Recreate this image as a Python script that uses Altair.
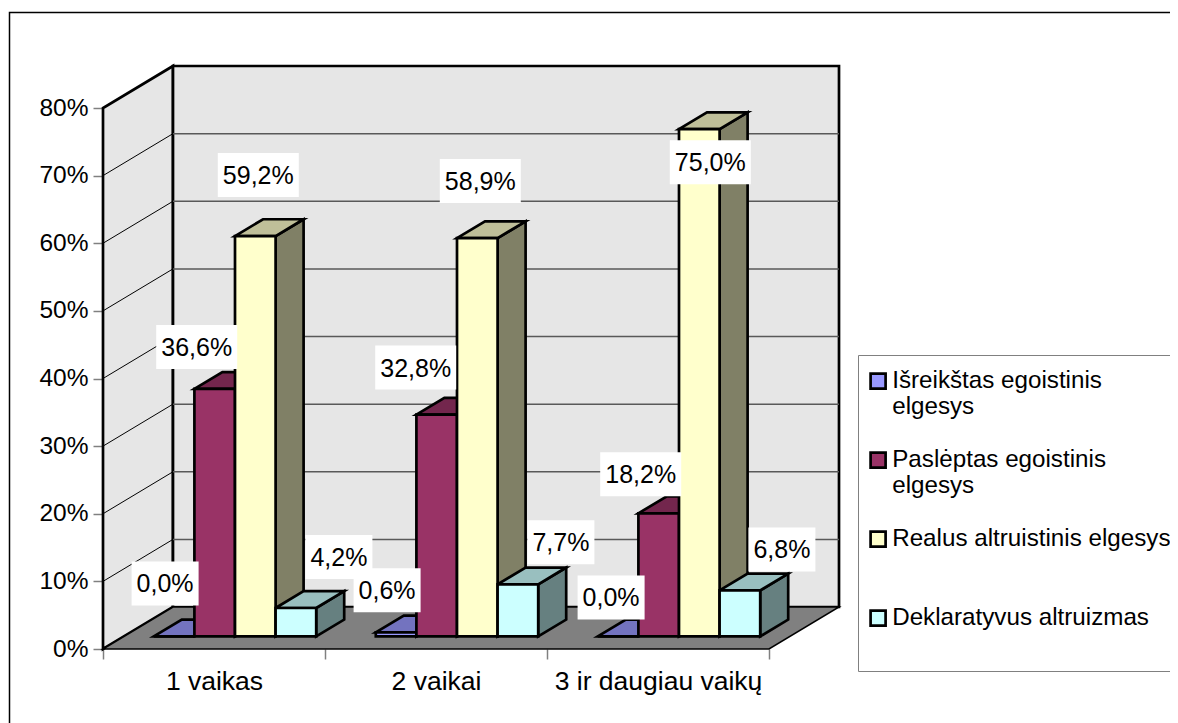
import altair as alt
import pandas as pd

categories = ["1 vaikas", "2 vaikai", "3 ir daugiau vaikų"]
series = ["Išreikštas egoistinis elgesys", "Paslėptas egoistinis elgesys",
          "Realus altruistinis elgesys", "Deklaratyvus altruizmas"]
values = [
    [0.0, 0.6, 0.0],
    [36.6, 32.8, 18.2],
    [59.2, 58.9, 75.0],
    [4.2, 7.7, 6.8],
]
front_colors = ["#9999FF", "#993366", "#FFFFCC", "#CCFFFF"]
top_colors = ["#7373BF", "#73264D", "#BFBF99", "#99BFBF"]
side_colors = ["#4D4D80", "#4D1A33", "#808066", "#668080"]

# Manual placement of the value labels, in pixels from each bar's top-front centre
label_dx = [[-9, -9, -7], [-18, -21, -18], [3, 3, 11], [43, 43, 42]]
label_dy = [[-53, -42, -39], [-42, -47, -39], [-61, -57, 33], [-51, -42, -41]]

PX_X = 222.0    # pixels per category
PX_Y = 6.7625   # pixels per percentage point
WALL_X = 70 / PX_X
WALL_Y = 42 / PX_Y
BAR_W = 40.6 / PX_X
GAP = (1 - 4 * BAR_W) / 2
D0, D1 = 0.3, 0.7
YMAX = 80


def fmt(v):
    return f"{v:.1f}".replace(".", ",") + "%"


faces = []
def face(name, fill, pts):
    for x, y, y2 in pts:
        faces.append(dict(face=name, fill=fill, x=x, y=y, y2=y2))


fronts, labels = [], []
face("leftwall", "#E6E6E6", [(0, 0, YMAX), (WALL_X, WALL_Y, YMAX + WALL_Y)])
face("backwall", "#E6E6E6", [(WALL_X, WALL_Y, YMAX + WALL_Y), (3 + WALL_X, WALL_Y, YMAX + WALL_Y)])
wall_df = pd.DataFrame(faces)
faces = []
face("floor", "#808080", [(0, 0, 0), (WALL_X, 0, WALL_Y), (3, 0, WALL_Y), (3 + WALL_X, WALL_Y, WALL_Y)])
floor_df = pd.DataFrame(faces)
faces = []

ddx = (D1 - D0) * WALL_X
ddy = (D1 - D0) * WALL_Y
base = D0 * WALL_Y
for c, cat in enumerate(categories):
    for s, name in enumerate(series):
        v = values[s][c]
        x0 = c + GAP + s * BAR_W + D0 * WALL_X
        x1 = x0 + BAR_W
        top = base + v
        face(f"side{c}{s}", side_colors[s], [(x1, base, top), (x1 + ddx, base + ddy, top + ddy)])
        face(f"top{c}{s}", top_colors[s], [(x0, top, top), (x0 + ddx, top, top + ddy),
                                           (x1, top, top + ddy), (x1 + ddx, top + ddy, top + ddy)])
        fronts.append(dict(series=name, x=x0, x2=x1, y=base, y2=top))
        lx = (x0 + x1) / 2 + label_dx[s][c] / PX_X
        ly = top - label_dy[s][c] / PX_Y
        t = fmt(v)
        hw = (40.5 if len(t) > 4 else 33.5) / PX_X
        hh = 22 / PX_Y
        labels.append(dict(x=lx, y=ly, x1=lx - hw, x2=lx + hw, y1=ly - hh, y2=ly + hh, text=t))
faces_df = pd.DataFrame(faces)
front_df = pd.DataFrame(fronts)
label_df = pd.DataFrame(labels)

ticks = [10, 20, 30, 40, 50, 60, 70]
grid_back = pd.DataFrame([dict(y=v + WALL_Y, x=WALL_X, x2=3 + WALL_X) for v in ticks])
grid_side = pd.DataFrame([dict(tick=v, x=px, y=v + py)
                          for v in ticks for px, py in [(0, 0), (WALL_X, WALL_Y)]])

frame_df = pd.DataFrame([dict(x=-93.5 / PX_X, x2=1200 / PX_X,
                              y=(649 - 12.5) / PX_Y, y2=(649 - 800) / PX_Y)])

xscale = alt.Scale(domain=[0, 3], nice=False, zero=False)
yscale = alt.Scale(domain=[0, YMAX], nice=False, zero=False)

FONT = "Liberation Sans"
FS = 25
ax_expr = ("datum.value == 0.5 ? '%s' : datum.value == 1.5 ? '%s' : datum.value == 2.5 ? '%s' : ''"
           % tuple(categories))
x_axis = alt.Axis(values=[0, 0.5, 1, 1.5, 2, 2.5, 3], labelExpr=ax_expr, domain=False, grid=False,
                  tickColor="#808080", tickWidth=1.5, tickSize=10, labelFont=FONT, labelFontSize=26.5,
                  labelColor="black", labelPadding=9, labelFlush=False, labelOverlap=False,
                  labelBound=False, labelLimit=400,
                  tickOpacity={"condition": {"test": "datum.value % 1 === 0", "value": 1}, "value": 0})
y_axis = alt.Axis(values=list(range(0, 90, 10)), labelExpr="datum.value + '%'", domain=False, grid=False,
                  tickColor="#808080", tickWidth=1.5, tickSize=10, labelFont=FONT, labelFontSize=24.5,
                  labelColor="black", labelPadding=5, labelFlush=False, labelOverlap=False,
                  labelBound=False)
X = alt.X("x:Q", scale=xscale, axis=x_axis, title=None)
Y = alt.Y("y:Q", scale=yscale, axis=y_axis, title=None)

frame = alt.Chart(frame_df).mark_rect(filled=False, stroke="black", strokeWidth=1.5).encode(
    x=X, x2="x2:Q", y=Y, y2="y2:Q")

wall = alt.Chart(wall_df).mark_area(stroke="black", strokeWidth=2.7, strokeJoin="miter").encode(
    x=X, y=Y, y2="y2:Q", detail="face:N", fill=alt.Fill("fill:N", scale=None))
floor = alt.Chart(floor_df).mark_area(stroke="black", strokeWidth=1.5, strokeJoin="miter").encode(
    x=X, y=Y, y2="y2:Q", detail="face:N", fill=alt.Fill("fill:N", scale=None))
gback = alt.Chart(grid_back).mark_rule(color="#595959", strokeWidth=1.5).encode(x=X, x2="x2:Q", y=Y)
gside = alt.Chart(grid_side).mark_line(color="black", strokeWidth=1).encode(x=X, y=Y, detail="tick:N")
bar3d = alt.Chart(faces_df).mark_area(stroke="black", strokeWidth=2.7, strokeJoin="miter").encode(
    x=X, y=Y, y2="y2:Q", detail="face:N", fill=alt.Fill("fill:N", scale=None))

legend_expr = ("indexof(datum.label, 'egoistinis') >= 0 ? "
               "split(replace(datum.label, 'egoistinis ', 'egoistinis|'), '|') : [datum.label, ' ']")
front = alt.Chart(front_df).mark_rect(stroke="black", strokeWidth=2.7).encode(
    x=X, x2="x2:Q", y=Y, y2="y2:Q",
    color=alt.Color("series:N", scale=alt.Scale(domain=series, range=front_colors),
                    legend=alt.Legend(orient="none", legendX=755, legendY=247, title=None,
                                      symbolType="square", symbolSize=225, symbolStrokeColor="black",
                                      symbolStrokeWidth=2.7, symbolOffset=-6, labelFont=FONT, labelFontSize=24.2,
                                      labelColor="black", labelLimit=600, labelOffset=2,
                                      labelExpr=legend_expr,
                                      fillColor="white", strokeColor="#808080", padding=14,
                                      rowPadding=27, direction="vertical")))

box = alt.Chart(label_df).mark_rect(fill="white").encode(
    x=alt.X("x1:Q", scale=xscale, axis=x_axis, title=None), x2="x2:Q",
    y=alt.Y("y1:Q", scale=yscale, axis=y_axis, title=None), y2="y2:Q")
text = alt.Chart(label_df).mark_text(font=FONT, fontSize=FS, color="black", align="center", baseline="middle", dy=1).encode(
    x=X, y=Y, text="text:N")

chart = alt.layer(frame, wall, floor, gback, gside, bar3d, front, box, text).properties(
    width=666, height=541,
    padding={"left": 95, "top": 100, "right": 401, "bottom": 74},
    autosize=alt.AutoSizeParams(type="none"),
    background="white",
).configure_view(stroke=None)

chart.save("out.html", embed_options={"renderer": "svg", "actions": False})
